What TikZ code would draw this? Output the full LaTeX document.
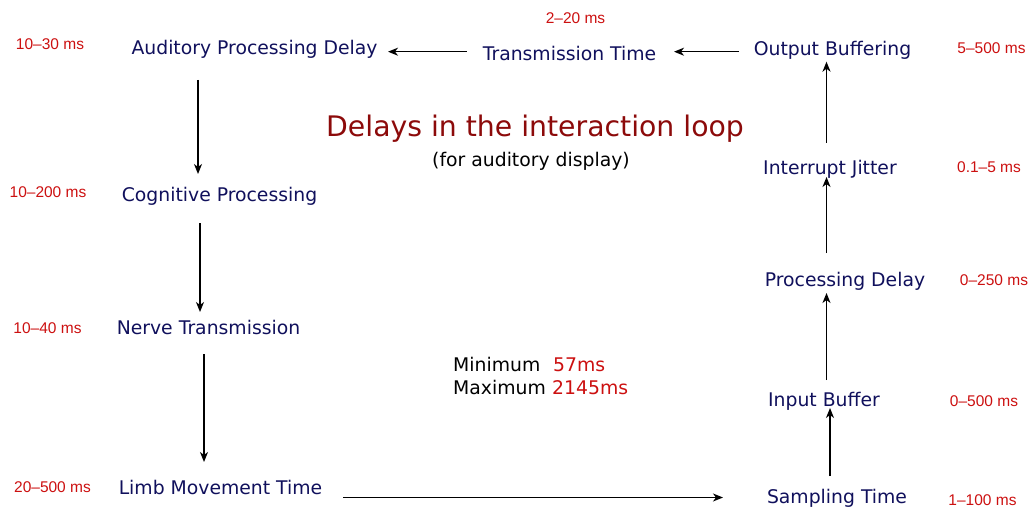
\documentclass[tikz,border=0pt]{standalone}
\usepackage{fontspec}
\setmainfont{DejaVu Sans}
\newfontfamily\labfont{Liberation Sans}
\usetikzlibrary{arrows.meta}
\definecolor{stepnavy}{RGB}{16,16,92}
\definecolor{msred}{RGB}{204,16,16}
\definecolor{titlered}{RGB}{140,10,10}
\tikzset{
  stage/.style={inner sep=0pt, anchor=base, text=stepnavy, font=\fontsize{18.8}{22}\selectfont},
  delaylabel/.style={inner sep=0pt, anchor=base, text=msred, font=\labfont\fontsize{15.5}{18}\selectfont},
  plaintext/.style={inner sep=0pt, anchor=base west, font=\fontsize{18.8}{22}\selectfont},
  flow/.style={line width=1.4pt, -{Stealth[length=10pt,width=8pt,inset=3pt]}}
}
\begin{document}
\begin{tikzpicture}[x=1pt,y=-1pt]
\useasboundingbox (0,0) rectangle (1033,508);

% left column: human side of the loop
\node[stage] (apd) at (254.5,55) {Auditory Processing Delay};
\node[stage] (cp)  at (219.5,201) {Cognitive Processing};
\node[stage] (nt)  at (208.5,334) {Nerve Transmission};
\node[stage] (lmt) at (220.5,494) {Limb Movement Time};

% right column and top row: system side of the loop
\node[stage] (st) at (837,503) {Sampling Time};
\node[stage] (ib) at (824,406) {Input Buffer};
\node[stage] (pd) at (845,286) {Processing Delay};
\node[stage] (ij) at (830,174) {Interrupt Jitter};
\node[stage] (ob) at (832.5,56) {Output Buffering};
\node[stage] (tt) at (569.5,61) {Transmission Time};

% delay ranges
\node[delaylabel] (rapd) at (50,50) {10–30 ms};
\node[delaylabel] (rcp)  at (48,197) {10–200 ms};
\node[delaylabel] (rnt)  at (47.5,333) {10–40 ms};
\node[delaylabel] (rlmt) at (52.5,492) {20–500 ms};
\node[delaylabel] (rst)  at (982.5,505) {1–100 ms};
\node[delaylabel] (rib)  at (984,406) {0–500 ms};
\node[delaylabel] (rpd)  at (994,285) {0–250 ms};
\node[delaylabel] (rij)  at (989,172) {0.1–5 ms};
\node[delaylabel] (rob)  at (991.5,53.3) {5–500 ms};
\node[delaylabel] (rtt)  at (575.5,24) {2–20 ms};

% title
\node[inner sep=0pt, anchor=base, text=titlered, font=\fontsize{28.3}{34}\selectfont] (title) at (535,136) {Delays in the interaction loop};
\node[inner sep=0pt, anchor=base, font=\fontsize{18.8}{22}\selectfont] (subtitle) at (531,166) {(for auditory display)};

% totals
\node[plaintext] (minl) at (453,371) {Minimum};
\node[plaintext, text=msred] (minv) at (553,371) {57ms};
\node[plaintext] (maxl) at (453,394) {Maximum};
\node[plaintext, text=msred] (maxv) at (552,394) {2145ms};

% connectors
\draw[flow] ([shift={(-56.5,25)}]apd.base) -- ([shift={(-21.5,-27)}]cp.base);
\draw[flow] ([shift={(-19.5,22)}]cp.base) -- ([shift={(-8.5,-22)}]nt.base);
\draw[flow] ([shift={(-4.5,20)}]nt.base) -- ([shift={(-16.5,-32)}]lmt.base);
\draw[flow] ([shift={(122.5,3.5)}]lmt.base) -- ([shift={(-114,-5.5)}]st.base);
\draw[flow] ([shift={(-7,-27)}]st.base) -- ([shift={(6,2)}]ib.base);
\draw[flow] ([shift={(2.5,-26)}]ib.base) -- ([shift={(-18.5,7)}]pd.base);
\draw[flow] ([shift={(-18.5,-33)}]pd.base) -- ([shift={(-3.5,3)}]ij.base);
\draw[flow] ([shift={(-3.5,-31)}]ij.base) -- ([shift={(-6,5.7)}]ob.base);
\draw[flow] ([shift={(-93.5,-4.3)}]ob.base) -- ([shift={(104.5,-9.3)}]tt.base);
\draw[flow] ([shift={(-102.8,-9.3)}]tt.base) -- ([shift={(133.5,-3.3)}]apd.base);
\end{tikzpicture}
\end{document}
